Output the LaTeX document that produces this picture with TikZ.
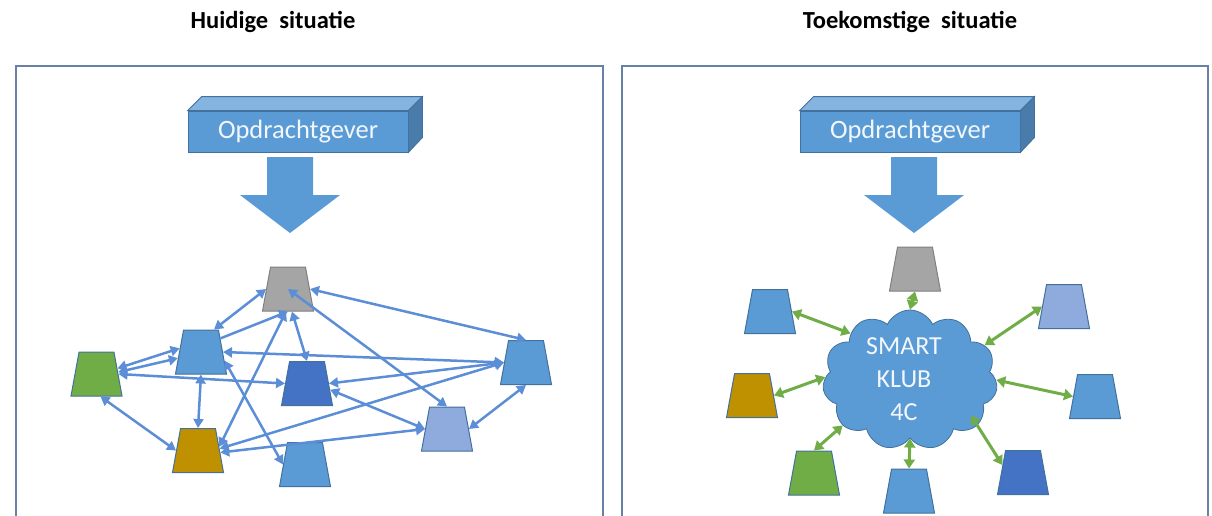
\documentclass[tikz,border=0pt]{standalone}
\usepackage{fontspec}
\setmainfont{Carlito}
\usetikzlibrary{shapes.geometric,shapes.symbols,arrows.meta,positioning,calc}

\definecolor{kblauw}{RGB}{91,155,213}
\definecolor{krand}{RGB}{65,113,156}
\definecolor{kgrijs}{RGB}{165,165,165}
\definecolor{kgroen}{RGB}{112,173,71}
\definecolor{kgoud}{RGB}{191,144,0}
\definecolor{kdonker}{RGB}{68,114,196}
\definecolor{klicht}{RGB}{143,170,220}
\definecolor{klijn}{RGB}{92,142,215}
\definecolor{kkader}{RGB}{104,128,164}

\begin{document}
\begin{tikzpicture}[x=1pt,y=-1pt,
         blok/.style = {trapezium, trapezium angle=77, trapezium stretches=true,
         minimum width=51pt, minimum height=44pt, inner sep=2pt,
         line width=1pt, draw=krand, fill=kblauw},
         doos/.style = {rectangle, fill=kblauw, draw=krand, line width=0.8pt,
         minimum width=220pt, minimum height=41pt, text=white!92!kblauw,
         font=\fontsize{26.5}{30}\selectfont},
         lijnL/.style = {line width=2.5pt, klijn,
         {Triangle[width=10pt,length=9pt]}-{Triangle[width=10pt,length=9pt]}},
         lijnT/.style = {line width=3pt, kgroen,
         {Triangle[width=11pt,length=9pt]}-{Triangle[width=11pt,length=9pt]}},
         titel/.style = {font=\bfseries\fontsize{24.5}{28}\selectfont},
         kader/.style = {draw=kkader, line width=2pt}]

   \useasboundingbox (0,0) rectangle (1212,515);

   % titles and frames
   \node[titel] (titelL) at (273,22) {Huidige\ \ situatie};
   \node[titel] (titelT) at (910,22) {Toekomstige\ \ situatie};
   \draw[kader] (16,530) -- (16,66) -- (603,66) -- (603,530);
   \draw[kader] (622,530) -- (622,66) -- (1208,66) -- (1208,530);

   % opdrachtgever, huidig
   \node[doos] (opdL) at (298,131.5) {Opdrachtgever};
   \fill[kblauw!75!white, draw=krand, line width=0.8pt] (opdL.north west)
      -- ++(14,-14) -- ($(opdL.north east)+(14,-14)$) -- (opdL.north east) -- cycle;
   \fill[kblauw!80!black, draw=krand, line width=0.8pt] (opdL.north east)
      -- ++(14,-14) -- ++(0,41) -- (opdL.south east) -- cycle;
   \coordinate (pijlL) at (290,233);
   \fill[kblauw] (pijlL) -- ++(-50,-38) -- ++(27,0) -- ++(0,-38) -- ++(46,0)
      -- ++(0,38) -- ++(27,0) -- cycle;

   % opdrachtgever, toekomst
   \node[doos] (opdT) at (910,131.5) {Opdrachtgever};
   \fill[kblauw!75!white, draw=krand, line width=0.8pt] (opdT.north west)
      -- ++(14,-14) -- ($(opdT.north east)+(14,-14)$) -- (opdT.north east) -- cycle;
   \fill[kblauw!80!black, draw=krand, line width=0.8pt] (opdT.north east)
      -- ++(14,-14) -- ++(0,41) -- (opdT.south east) -- cycle;
   \coordinate (pijlT) at (914,233);
   \fill[kblauw] (pijlT) -- ++(-50,-38) -- ++(27,0) -- ++(0,-38) -- ++(46,0)
      -- ++(0,38) -- ++(27,0) -- cycle;

   % partijen, huidig
   \node[blok, fill=kgrijs, draw=gray]  (h1) at (288,289)   {};
   \node[blok]                          (h2) at (201,352)   {};
   \node[blok, fill=kgroen]             (h3) at (96.5,374)  {};
   \node[blok, fill=kdonker]            (h4) at (307,383.5) {};
   \node[blok, fill=kgoud]              (h5) at (198,450.5) {};
   \node[blok]                          (h6) at (305,464.5) {};
   \node[blok]                          (h7) at (526,362.5) {};
   \node[blok, fill=klicht]             (h8) at (447,429)   {};

   % iedereen met iedereen
   \draw[lijnL] (h2.60) -- (h1.west);
   \draw[lijnL, -{Triangle[width=10pt,length=9pt]}] (h2.35) -- (h1.south);
   \draw[lijnL] (h3.15) -- (h2.170);
   \draw[lijnL] (h3.5) -- (h2.195);
   \draw[lijnL] (h3.east) -- (h4.west);
   \draw[lijnL] (h3.-80) -- (h5.west);
   \draw[lijnL] (h2.south) -- (h5.north);
   \draw[lijnL] (h2.-20) -- (h6.west);
   \draw[lijnL] (h5.10) -- (h1.-95);
   \draw[lijnL] (h5.5) -- (h7.west);
   \draw[lijnL] (h5.-5) -- (h8.west);
   \draw[lijnL] (h2.east) -- (h7.west);
   \draw[lijnL] (h1.east) -- (h7.north);
   \draw[lijnL] (h1.center) -- (h8.north);
   \draw[lijnL] (h1.-80) -- (h4.north);
   \draw[lijnL] (h4.east) -- (h7.west);
   \draw[lijnL] (h4.-15) -- (h8.west);
   \draw[lijnL] (h7.south) -- (h8.east);

   % smart klub in het midden
   \node[cloud, cloud puffs=11, cloud puff arc=130, aspect=1.25,
         minimum width=175pt, minimum height=140pt, inner sep=0pt,
         fill=kblauw, draw=krand, line width=0.8pt] (t0) at (910,380) {};
   \node[align=center, text=white!92!kblauw, font=\fontsize{26}{33}\selectfont]
         (klub) at (904,379) {SMART\\KLUB\\4C};

   % partijen, toekomst
   \node[blok, fill=kgrijs, draw=gray]  (t1) at (915,269)    {};
   \node[blok]                          (t2) at (770,311.5)  {};
   \node[blok, fill=kgoud]              (t3) at (752,395.5)  {};
   \node[blok, fill=kgroen]             (t4) at (814,473)    {};
   \node[blok]                          (t5) at (909,491)    {};
   \node[blok, fill=kdonker]            (t6) at (1023,472.5) {};
   \node[blok]                          (t7) at (1095,396.5) {};
   \node[blok, fill=klicht]             (t8) at (1064,306.5) {};

   % alles via de klub
   \draw[lijnT] (t1.south) -- (t0.north);
   \draw[lijnT] (t2.east) -- (t0.142);
   \draw[lijnT] (t3.east) -- (t0.178);
   \draw[lijnT] (t4.north) -- (t0.214);
   \draw[lijnT] (t5.north) -- (t0.south);
   \draw[lijnT, shorten <=-12pt] (t0.-34) -- (t6.160);
   \draw[lijnT] (t7.west) -- (t0.0);
   \draw[lijnT] (t8.west) -- (t0.25);
\end{tikzpicture}
\end{document}
